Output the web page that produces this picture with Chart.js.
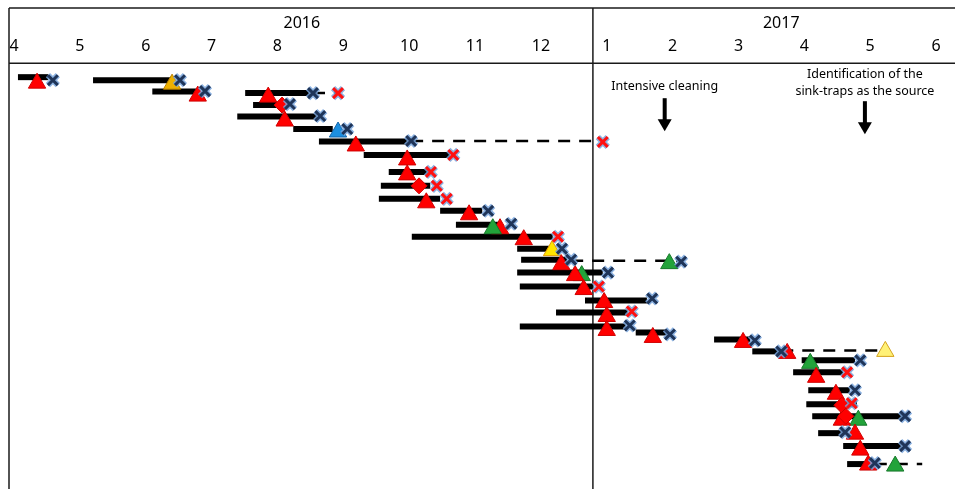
<!DOCTYPE html>
<html><head><meta charset="utf-8">
<script src="https://cdn.jsdelivr.net/npm/chart.js@4.4.1/dist/chart.umd.min.js"></script>
<style>html,body{margin:0;padding:0;background:#fff}canvas{display:block}</style>
</head><body>
<canvas id="c" width="956" height="489"></canvas>
<script>
// ---- axis (months; Apr 2016 = 4 ... Jan 2017 = 13 ... Jun 2017 = 18)
const monthTicks  = [4,5,6,7,8,9,10,11,12,13,14,15,16,17,18];
const monthLabels = ['4','5','6','7','8','9','10','11','12','1','2','3','4','5','6'];
const yearLabels  = ['2016','2017'];
const yearCenters = [8.37, 15.65];
const yearBoundary = 12.79;

// ---- black bars (stay periods)
const barStart = [4.06,5.20,6.10,7.51,7.63,7.39,8.24,8.63,9.31,9.69,9.57,9.54,10.47,10.71,10.04,11.64,11.70,11.64,11.68,12.67,12.23,11.68,13.44,14.63,15.21,15.96,15.83,16.06,16.03,16.12,16.21,16.59,16.65];
const barEnd   = [4.52,6.41,6.82,8.49,8.15,8.60,8.84,10.01,10.62,10.32,10.32,10.47,11.11,11.38,12.18,12.18,12.40,12.94,12.79,13.61,13.32,13.29,13.92,15.18,15.63,16.77,16.59,16.69,16.80,17.56,16.59,17.48,17.04];
const barRow   = [14,17,28.5,30,42,53.5,66,78.5,92,109,123,136,148,162,174,186,197,210,224,238,250,264,270,277,289,298,310,328,342,354,371,384,402];

// ---- dashed follow-up links
const linkFrom = [8.54,10.03,12.46,15.65,17.07];
const linkTo   = [8.92,12.94,14.13,17.23,17.79];
const linkRow  = [30,78,198,288,402];

// ---- triangles (isolates) : R red, G green, Y yellow, O orange, B blue, L light yellow
const triX    = [4.35,6.40,6.79,7.86,8.11,8.92,9.19,9.97,9.97,10.26,10.91,11.38,11.27,11.74,12.17,12.31,13.95,12.62,12.52,12.65,12.96,13.00,13.00,13.70,15.07,15.74,17.23,16.09,16.18,16.48,16.82,16.57,16.77,16.85,16.97,17.38];
const triRow  = [20,21,33,34,58,69,83,97,112,140,152,166,166,177,188,202,201,213,213,227,240,254,268,275,280,291,289,301,315,332,358,358,372,388,403,404];
const triType = ['R','O','R','R','R','B','R','R','R','R','R','R','G','R','Y','R','G','G','R','R','R','R','R','R','R','R','L','G','R','R','G','R','R','R','R','G'];

// ---- diamonds
const diaX   = [8.07,10.15,16.57,16.63];
const diaRow = [42,123,343,354];

// ---- crosses : b = dark blue, r = red
const crossX    = [4.59,6.52,6.90,8.54,8.92,8.19,8.65,9.06,10.03,12.94,10.67,10.33,10.42,10.57,11.20,11.55,12.26,12.32,12.46,14.13,13.02,12.88,13.69,13.38,13.35,13.96,15.25,15.65,16.85,16.65,16.77,16.72,17.53,16.62,17.53,17.07];
const crossRow  = [17,17,28,30,30,41,53,66,78,79,92,109,123,136,148,161,174,186,197,199,210,224,236,249,263,272,278,289,298,310,328,341,354,370,384,401];
const crossType = ['b','b','b','b','r','b','b','b','b','r','r','r','r','r','b','b','r','b','b','b','b','r','b','r','b','b','b','b','b','r','b','r','b','b','b','b'];

// ---- annotations
const noteLines = [['Intensive cleaning'], ['Identification of the','sink-traps as the source']];
const noteX = [13.88, 16.92];

const triFill   = {R:'#FF0000',G:'#22A33A',Y:'#FFE500',O:'#EDB000',B:'#1C8FE0',L:'#FFF176'};
const triBorder = {R:'#D00000',G:'#16782A',Y:'#E39A00',O:'#B98000',B:'#1565A8',L:'#D4A21C'};
const crossCol  = {b:'#1F3559', r:'#FF1010'};
const FONT = '"Noto Sans", "DejaVu Sans", sans-serif';

const datasets = [];
barStart.forEach((s,i)=>{
  datasets.push({data:[{x:s,y:barRow[i]},{x:barEnd[i],y:barRow[i]}], showLine:true, pointRadius:0,
    borderColor:'#000', borderWidth:6, borderCapStyle:'butt', order:20, clip:false});
});
linkFrom.forEach((s,i)=>{
  datasets.push({data:[{x:s,y:linkRow[i]},{x:linkTo[i],y:linkRow[i]}], showLine:true, pointRadius:0,
    borderColor:'#000', borderWidth:2.5, borderDash:[12,9], order:19, clip:false});
});
datasets.push({data:triX.map((v,i)=>({x:v,y:triRow[i]})), pointStyle:'triangle', pointRadius:10,
  pointBackgroundColor:triType.map(t=>triFill[t]), pointBorderColor:triType.map(t=>triBorder[t]),
  pointBorderWidth:1, order:5, clip:false});
datasets.push({data:diaX.map((v,i)=>({x:v,y:diaRow[i]})), pointStyle:'rectRot', pointRadius:8,
  pointBackgroundColor:'#FF0000', pointBorderColor:'#D00000', pointBorderWidth:1, order:4, clip:false});
datasets.push({data:crossX.map((v,i)=>({x:v,y:crossRow[i]})), pointStyle:'crossRot', pointRadius:7,
  pointBorderColor:'rgba(120,165,220,0.85)', pointBorderWidth:6, order:3, clip:false});
datasets.push({data:crossX.map((v,i)=>({x:v,y:crossRow[i]})), pointStyle:'crossRot', pointRadius:7,
  pointBorderColor:crossType.map(t=>crossCol[t]), pointBorderWidth:3, order:2, clip:false});

const frame = {
  id:'frame',
  beforeDatasetsDraw(chart){
    const {ctx, chartArea:a, scales:{x}} = chart;
    const headTop = 8;
    ctx.save();
    ctx.strokeStyle = '#1a1a1a'; ctx.lineWidth = 1.5;
    const seg=(x1,y1,x2,y2)=>{ctx.beginPath();ctx.moveTo(x1,y1);ctx.lineTo(x2,y2);ctx.stroke();};
    seg(a.left, headTop, a.right, headTop);
    seg(a.left, a.top, a.right, a.top);
    seg(a.left, headTop, a.left, a.bottom);
    const bx = x.getPixelForValue(yearBoundary);
    seg(bx, headTop, bx, a.bottom);
    ctx.fillStyle = '#000'; ctx.textAlign='center'; ctx.textBaseline='middle';
    ctx.font = '16px ' + FONT;
    yearLabels.forEach((t,i)=>ctx.fillText(t, x.getPixelForValue(yearCenters[i]), 23));
    // annotations with arrows
    ctx.font = '12.5px ' + FONT;
    noteLines.forEach((lines,i)=>{
      const px = x.getPixelForValue(noteX[i]);
      const n = lines.length;
      const firstY = a.top + (n===1 ? 23 : 11);
      lines.forEach((t,j)=>ctx.fillText(t, px, firstY + j*17));
      const y0 = a.top + (n===1 ? 35 : 38);
      const y1 = y0 + 33;
      ctx.fillRect(px-2, y0, 4, y1-y0-11);
      ctx.beginPath(); ctx.moveTo(px-7, y1-12); ctx.lineTo(px+7, y1-12); ctx.lineTo(px, y1); ctx.closePath(); ctx.fill();
    });
    ctx.restore();
  }
};

new Chart(document.getElementById('c'), {
  type:'scatter',
  data:{datasets},
  options:{
    responsive:false, animation:false, devicePixelRatio:1,
    layout:{autoPadding:false, padding:{top:30,left:9,right:1,bottom:0}},
    plugins:{legend:{display:false}, tooltip:{enabled:false}},
    events:[],
    scales:{
      x:{type:'linear', position:'top', min:3.924, max:18.288,
        afterBuildTicks:(s)=>{ s.ticks = monthTicks.map(v=>({value:v})); },
        ticks:{autoSkip:false, maxRotation:0, padding:7, color:'#000', font:{family:FONT, size:16},
          callback:(v,i)=>monthLabels[i]},
        grid:{display:false, drawTicks:false}, border:{display:false}},
      y:{type:'linear', display:false, reverse:true, min:0, max:427}
    }
  },
  plugins:[frame]
});
</script>
</body></html>
